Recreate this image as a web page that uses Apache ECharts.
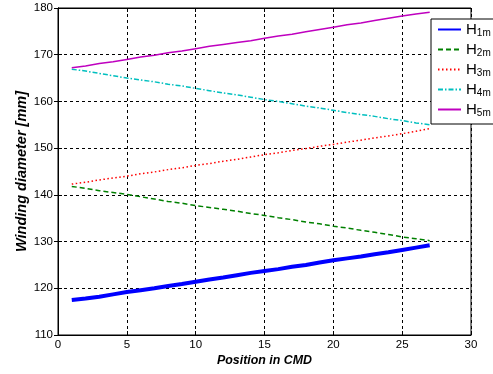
<!DOCTYPE html>
<html><head><meta charset="utf-8">
<script src="https://cdn.jsdelivr.net/npm/echarts@6/dist/echarts.min.js"></script>
<style>html,body{margin:0;padding:0;background:#fff}#c{width:493px;height:374px}</style>
</head><body><div id="c"></div>
<script>
const positions = [1,2,3,4,5,6,7,8,9,10,11,12,13,14,15,16,17,18,19,20,21,22,23,24,25,26,27];
const seriesNames = ['1m','2m','3m','4m','5m'];
const H1m = [117.5,117.8,118.2,118.7,119.2,119.6,120.0,120.5,120.9,121.4,121.9,122.3,122.8,123.3,123.7,124.1,124.6,125.0,125.5,126.0,126.4,126.8,127.3,127.7,128.2,128.7,129.2];
const H2m = [141.8,141.4,140.9,140.5,140.1,139.6,139.1,138.6,138.2,137.7,137.3,136.9,136.5,136.0,135.6,135.1,134.7,134.2,133.8,133.3,132.9,132.4,132.0,131.5,131.0,130.6,130.2];
const H3m = [142.3,142.7,143.2,143.6,144.0,144.5,144.9,145.4,145.8,146.3,146.7,147.2,147.6,148.1,148.6,149.0,149.5,149.9,150.4,150.8,151.3,151.7,152.2,152.6,153.1,153.6,154.2];
const H4m = [166.9,166.5,166.0,165.5,165.0,164.6,164.2,163.7,163.3,162.8,162.3,161.8,161.4,160.9,160.4,160.0,159.5,159.0,158.6,158.1,157.6,157.2,156.8,156.3,155.9,155.4,155.0];
const H5m = [167.2,167.6,168.1,168.5,169.0,169.5,169.9,170.4,170.8,171.3,171.8,172.2,172.6,173.0,173.5,174.0,174.4,174.9,175.4,175.9,176.4,176.8,177.3,177.8,178.3,178.7,179.1];
const xTicks = [0,5,10,15,20,25,30];
const yTicks = [110,120,130,140,150,160,170,180];

const values = [H1m,H2m,H3m,H4m,H5m];
const styles = [
  {color:'#0000ff', width:4, type:'solid'},
  {color:'#008000', width:1.5, type:[5,3]},
  {color:'#ff0000', width:1.5, type:[1.5,2.5]},
  {color:'#00bfbf', width:1.5, type:[5,2,1.5,2]},
  {color:'#bf00bf', width:1.5, type:'solid'}
];
const chart = echarts.init(document.getElementById('c'));
const font = '"Liberation Sans", Arial, sans-serif';
const gridLine = {show:true, lineStyle:{color:'#000', type:[3,3], width:1}};
const series = values.map((v,i)=>({
  name:'H'+seriesNames[i], type:'line', symbol:'none', showSymbol:false,
  data: positions.map((x,j)=>[x,v[j]]),
  lineStyle:{color:styles[i].color,width:styles[i].width,type:styles[i].type},
  itemStyle:{color:styles[i].color},
  emphasis:{disabled:true}, z:3
}));
chart.setOption({
  animation:false,
  grid:{left:58, right:22, top:8, bottom:39, show:true, borderColor:'#000', borderWidth:1, backgroundColor:'transparent'},
  xAxis:[{type:'value', min:xTicks[0], max:xTicks[xTicks.length-1], interval:5,
    name:'Position in CMD', nameLocation:'middle', nameGap:20, nameMoveOverlap:false,
    nameTextStyle:{fontFamily:font, fontSize:12.4, fontStyle:'italic', fontWeight:'bold', color:'#000', verticalAlign:'top'},
    axisLine:{show:true, lineStyle:{color:'#000'}},
    axisTick:{show:true, inside:true, length:4, lineStyle:{color:'#000'}},
    axisLabel:{color:'#000', fontFamily:font, fontSize:11.5, margin:4},
    splitLine:gridLine},
    {type:'value', position:'top', min:0, max:30, interval:5,
    axisLine:{show:true, lineStyle:{color:'#000'}},
    axisTick:{show:true, inside:true, length:4, lineStyle:{color:'#000'}},
    axisLabel:{show:false}, splitLine:{show:false}}],
  yAxis:[{type:'value', min:yTicks[0], max:yTicks[yTicks.length-1], interval:10,
    name:'Winding diameter [mm]', nameLocation:'middle', nameGap:29, nameMoveOverlap:false,
    nameTextStyle:{fontFamily:font, fontSize:14.5, fontStyle:'italic', fontWeight:'bold', color:'#000'},
    axisLine:{show:true, lineStyle:{color:'#000'}},
    axisTick:{show:true, inside:true, length:4, lineStyle:{color:'#000'}},
    axisLabel:{color:'#000', fontFamily:font, fontSize:11.5, margin:5},
    splitLine:gridLine},
    {type:'value', position:'right', min:110, max:180, interval:10,
    axisLine:{show:true, lineStyle:{color:'#000'}},
    axisTick:{show:true, inside:true, length:4, lineStyle:{color:'#000'}},
    axisLabel:{show:false}, splitLine:{show:false}}],
  legend:{
    orient:'vertical', left:431, top:19, itemWidth:23, itemHeight:10, itemGap:4,
    backgroundColor:'#fff', borderColor:'#000', borderWidth:1, borderRadius:0,
    padding:[3,30,6,6],
    itemStyle:{color:'rgba(0,0,0,0)', borderColor:'rgba(0,0,0,0)', borderWidth:0},
    data: series.map(s=>s.name),
    formatter: n => '{a|H}{b|'+n.slice(1)+'}',
    textStyle:{color:'#000', fontFamily:font,
      rich:{a:{fontSize:15, fontFamily:font, color:'#000'}, b:{fontSize:10, fontFamily:font, color:'#000', padding:[7,0,0,0]}}}
  },
  series: series
});
</script></body></html>
